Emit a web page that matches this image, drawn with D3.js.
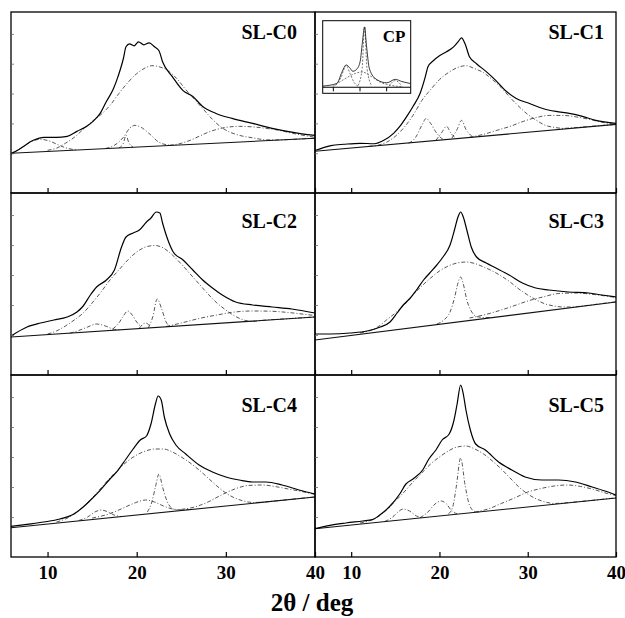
<!DOCTYPE html>
<html>
<head>
<meta charset="utf-8">
<script src="https://cdn.jsdelivr.net/npm/d3@7"></script>
<style>
  body { margin: 0; background: #fff; }
  text { font-family: "Liberation Serif", "Times New Roman", serif; font-weight: bold; }
</style>
</head>
<body>
<div id="chart"></div>
<script>
// XRD patterns (2theta in deg, intensity in a.u.)

var xTicks = [10, 20, 30, 40];
var panelNames = ["SL-C0", "SL-C1", "SL-C2", "SL-C3", "SL-C4", "SL-C5"];

// --- SL-C0
var obsC0 = [[5.9,39],[7,45],[8.4,53],[9.6,56],[11,56],[12.2,57],[13.3,62],[14.4,67],[15.1,72],[15.9,80],[16.6,92],[17.4,105],[17.9,117],[18.5,135],[18.8,147],[19.2,150],[19.7,148],[20.2,152],[20.8,149],[21.4,151],[22,147],[22.5,143],[22.9,132],[24,117],[25.2,103],[26.3,97],[27.4,87],[28.9,80],[30.7,75],[33,70],[35.2,65],[38.2,60],[40,58]];
var baseC0 = [[5.9,40],[40,55]];
var peaksC0 = [
  [[5.9,40],[7,45],[8,51],[9.2,54],[10.3,52],[11.3,48],[12.2,45],[13.3,43.3]],
  [[10,43],[11,45],[12,50],[13,56],[14,64],[15,72],[16,79],[17,88],[18,100],[19,111],[20,120],[21,126],[21.7,128],[22.5,127],[23.5,123],[24.5,115],[25.5,104],[26.5,94],[27.5,84],[28.5,74],[29.5,66],[30.5,61],[31.5,58],[33,55.5],[34.5,53.5],[36,53.4],[38,54.2],[40,55.1]],
  [[16.5,44.8],[17.5,48],[18.5,56],[19.2,65],[19.8,68],[20.5,66],[21.5,59],[22.5,51],[23.7,48]],
  [[18,45.3],[18.5,50],[18.8,58],[19.1,51],[19.6,46]],
  [[23.7,48],[25,50],[26,53],[27,57],[28,61],[29,64],[30,66],[31.5,67],[33,66.5],[34.5,65],[36,63],[37.5,60],[39,57.5],[40,56]]
];

// --- SL-C1
var obsC1 = [[5.9,42.7],[7.7,47.7],[9.2,49],[11,50],[12.6,49.5],[13.7,53],[14.8,60],[15.6,68],[16.3,77],[17,87],[17.8,100],[18.4,117],[18.7,127],[19.3,133],[20,138],[20.8,142],[21.6,147],[22.1,152],[22.5,156],[22.9,150],[23.4,137],[24.2,130],[25.3,122],[26.4,113],[27.6,102],[28.7,95],[30.2,90],[31.7,85],[33.2,82],[34.7,80],[36.2,77],[37.7,73],[40,70]];
var baseC1 = [[5.9,42],[40,69]];
var peaksC1 = [
  [[12,47],[13,48],[14,51],[15,57],[16,66],[17,78],[18,93],[19,104],[20,114],[21,121],[22,126],[23,128],[24,125],[25,121],[26,114],[27,106],[28,96],[29,87],[30,79],[31,73],[32,68],[33,66],[34,65],[35,65.5],[36,66.2],[38,67.6],[40,69.1]],
  [[16.5,50],[17.3,56],[18,68],[18.5,75],[19,70],[19.7,60],[20.5,54],[21,53.9]],
  [[19.6,53],[20.2,60],[20.8,67],[21.3,60],[21.9,55]],
  [[21.4,55],[22,64],[22.5,73],[23,64],[23.8,56]],
  [[23.4,56],[25,59],[26.5,63],[28,67],[29.5,72],[31,76],[32.5,78],[34,78],[35.5,76.5],[37,74],[38.5,71],[40,69]]
];

// --- inset CP
var obsCP = [[6.25,1.3],[11.5,4],[13.4,15.7],[15,23.3],[16.25,20.7],[17.5,16.7],[19,19],[20.25,27],[21.1,47],[21.9,63],[22.6,44],[23.75,19],[26.5,8],[30.25,4.7],[33.4,8.3],[35.9,6],[39,4]];
var peaksCP = [
  [[11,2],[13,10],[15,23],[16.5,14],[18,5],[19.5,1]],
  [[10,1],[14,8],[18,14],[21,16],[24,12],[28,5],[32,2],[36,0.5]],
  [[19.5,2],[21,20],[21.9,63],[22.8,20],[24.5,2]],
  [[31,1],[33.4,7],[36,1]]
];

// --- SL-C2
var obsC2 = [[5.9,39],[7.7,48],[9.2,52],[10.7,55],[12.2,58],[13.3,63],[14,69],[14.8,80],[15.5,88],[16.6,95],[17.5,105],[18.3,128],[18.8,138],[19.6,142],[20.3,145],[21.1,153],[21.6,157],[22.2,163],[22.6,162],[22.9,152],[23.5,135],[24.1,123],[25.2,115],[26.3,105],[27.4,95],[28.5,87],[29.6,80],[31.1,73],[33,70],[35.2,68],[37.4,66],[40,62]];
var baseC2 = [[5.9,38],[40,58]];
var peaksC2 = [
  [[10,41],[11,44],[12,49],[13,55],[14,62],[15,72],[16,83],[17,95],[18,105],[19,115],[20,123],[21,128],[22,129.5],[23,127],[24,120],[25,111],[26,101],[27,91],[28,81],[29,72],[30,65],[31,59],[32,55],[33,53.5],[34,54.6],[36,55.8],[38,56.9],[40,58.1]],
  [[12.5,41.8],[13.5,44.5],[14.5,48],[15.5,51],[16.5,49],[17.5,45.6],[18.3,45.2]],
  [[17.3,45.9],[18,52],[18.5,59],[19,64],[19.5,60],[20,53],[20.5,48.3]],
  [[20.3,47],[21,52],[21.6,47.5]],
  [[21.3,47],[21.8,58],[22.3,76],[22.8,66],[23.3,53],[23.8,48.5]],
  [[23.3,48.5],[25,52],[27,56.5],[29,60],[31,63],[33,64],[35,63.8],[37,62.5],[39,60.5],[40,59.5]]
];

// --- SL-C3
var obsC3 = [[5.9,41],[7.6,41],[9.9,42],[11.8,44],[13.3,48],[14.4,53],[15.2,62],[15.9,70],[16.7,77],[17.4,85],[18.2,95],[18.9,102],[19.7,110],[20.4,118],[21.2,130],[21.7,145],[22.1,158],[22.4,163],[22.7,158],[23.1,145],[23.6,128],[24.2,118],[25.3,112],[26.4,107],[27.9,100],[29.4,92],[30.9,87],[32.4,85],[34.6,83],[36.9,82],[38.4,80],[40,78]];
var baseC3 = [[5.9,35],[40,73]];
var peaksC3 = [
  [[11,42],[12,44],[13,48],[14,55],[15,62],[16,70],[17,80],[18,89],[19,97],[20,104],[21,109],[22,112],[23,113],[24,111.5],[25,108],[26,104],[27,99],[28,93],[29,86],[30,80],[31,75],[32,71],[33,69],[34,68],[35,68],[36,68.8],[38,71],[40,73.2]],
  [[19.7,51],[20.5,55],[21.2,63],[21.7,77],[22.1,92],[22.4,98],[22.7,91],[23.1,75],[23.6,64],[24.2,58.5],[25,57.5],[26,57.5]],
  [[23.4,57],[25,60],[27,65],[28.7,70],[30,74],[31.7,78],[33.5,81.5],[35.5,82],[37.5,80.5],[40,77.5]]
];

// --- SL-C4
var obsC4 = [[5.9,30.7],[7.7,32.7],[9.6,35],[11.4,38],[12.9,42.7],[14,50],[14.8,56.7],[15.9,66.7],[17,78],[17.9,86.7],[18.8,98],[19.6,108],[20.4,117],[21.1,121],[21.6,133],[22.1,153],[22.4,161],[22.75,157],[23.1,140],[23.7,123],[24.4,112],[25.5,103],[27,92],[28.5,85],[30,80],[31.5,77],[33,75],[34.5,75],[36.3,72],[38.2,67],[40,63]];
var baseC4 = [[5.9,29.3],[40,60]];
var peaksC4 = [
  [[11,35],[12,38],[13,43],[14,50],[15,59],[16,69],[17,79],[18,88],[19,96],[20,102],[21,106],[22,108],[23,108],[24,105],[25,100],[26,94],[27,87],[28,79],[29,71],[30,64],[31,59],[32,56],[33,54.5],[34,54.8],[36,56.5],[38,58.3],[40,60.1]],
  [[21.2,45],[21.7,55],[22.1,70],[22.5,83],[22.9,70],[23.4,56],[23.9,49],[24.5,47]],
  [[15,39],[16.5,42],[18,47],[19.5,53],[21,57],[22,55],[23,51],[24,48],[25,47.2],[26,47.5]],
  [[13.5,36.5],[14.5,40],[15.3,45],[16,47],[16.8,45],[17.6,41.5],[18.3,40.5]],
  [[25,47.6],[26.5,50],[28,55],[29.5,62],[31,68],[32.5,71.5],[34,72],[35.5,70.5],[37,68],[38.5,65.5],[40,62.5]]
];

// --- SL-C5
var obsC5 = [[5.9,28.3],[7.6,31.7],[9.4,34],[11.3,36],[12.4,37.3],[13.2,41.7],[14.3,50],[15.5,63],[16.2,73],[17,78],[18.1,87],[18.8,98],[19.6,107],[20.3,117],[21.1,123],[21.65,137],[22,153],[22.4,172],[22.7,163],[23,147],[23.5,127],[24.1,113],[25.2,107],[26.7,95],[28.2,87],[29.7,80],[31.6,77],[33.5,77],[35.4,75],[37.3,70],[39.1,65],[40,62]];
var baseC5 = [[5.9,28.3],[40,59]];
var peaksC5 = [
  [[11,34],[12,36],[13,40],[14,47],[15,56],[16,65],[17,75],[18,84],[19,93],[20,100],[21,106],[22,110],[23,111],[24,108],[25,103],[26,96],[27,88],[28,79],[29,70],[30,63],[31,58],[32,55],[33,53.5],[34,54],[36,55.6],[38,57.3],[40,59.1]],
  [[21,43],[21.5,50],[21.9,70],[22.4,99],[22.9,72],[23.4,52],[24,45.5],[24.5,45]],
  [[17.8,39.2],[18.7,45],[19.5,53],[20.2,56],[20.8,53],[21.4,46],[22,43.2]],
  [[13.8,35.5],[14.7,40],[15.3,45],[15.9,48],[16.6,46],[17.4,41],[18.2,39.3]],
  [[24,45],[25.5,48],[27,53.5],[28.5,59],[30,65],[31.5,68.5],[33,71],[34.5,72],[36,70.5],[37.5,67.5],[39,63.5],[40,61.5]]
];

var panels = [
  { name: panelNames[0], obs: obsC0, base: baseC0, peaks: peaksC0 },
  { name: panelNames[1], obs: obsC1, base: baseC1, peaks: peaksC1 },
  { name: panelNames[2], obs: obsC2, base: baseC2, peaks: peaksC2 },
  { name: panelNames[3], obs: obsC3, base: baseC3, peaks: peaksC3 },
  { name: panelNames[4], obs: obsC4, base: baseC4, peaks: peaksC4 },
  { name: panelNames[5], obs: obsC5, base: baseC5, peaks: peaksC5 }
];

// layout
var width = 625, height = 618;
var cols = [[11, 315], [315, 616]];
var rows = [[12, 193], [193, 375], [375, 557]];
var labelDy = [27, 35, 37];

var svg = d3.select("#chart").append("svg")
  .attr("width", width)
  .attr("height", height);

panels.forEach(function(p, i) {
  var c = cols[i % 2], r = rows[Math.floor(i / 2)];
  var x = d3.scaleLinear().domain([5.9, 40]).range(c);
  var y = d3.scaleLinear().domain([0, 182]).range([r[1], r[0]]);
  var line = d3.line()
    .x(function(d) { return x(d[0]); })
    .y(function(d) { return y(d[1]); })
    .curve(d3.curveMonotoneX);

  var g = svg.append("g").attr("class", "panel");

  // fitted components
  g.selectAll(".peak")
    .data(p.peaks)
    .enter().append("path")
    .attr("class", "peak")
    .attr("d", line)
    .style("fill", "none")
    .style("stroke", "#444")
    .style("stroke-width", 0.9)
    .style("stroke-dasharray", "4,2,1,2");

  // baseline
  g.append("path")
    .attr("d", line(p.base))
    .style("fill", "none")
    .style("stroke", "#111")
    .style("stroke-width", 1.1);

  // measured pattern
  g.append("path")
    .attr("d", line(p.obs))
    .style("fill", "none")
    .style("stroke", "#000")
    .style("stroke-width", 1.2);

  // frame
  g.append("rect")
    .attr("x", c[0]).attr("y", r[0])
    .attr("width", c[1] - c[0]).attr("height", r[1] - r[0])
    .style("fill", "none")
    .style("stroke", "#000")
    .style("stroke-width", 1.3);

  // x ticks (inward)
  var ax = g.append("g")
    .attr("transform", "translate(0," + r[1] + ")")
    .call(d3.axisBottom(x).tickValues(xTicks).tickSizeInner(-5).tickSizeOuter(0).tickPadding(8.5));
  ax.select(".domain").remove();
  ax.selectAll("line").style("stroke", "#000").style("stroke-width", 1.2);
  if (i < 4) {
    ax.selectAll("text").remove();
  } else {
    ax.selectAll("text")
      .style("font-family", "'Liberation Serif', 'Times New Roman', serif")
      .style("font-weight", "bold")
      .style("font-size", "19px")
      .style("fill", "#000");
  }

  // faint y ticks
  var ay = g.append("g")
    .attr("transform", "translate(" + c[0] + ",0)")
    .call(d3.axisLeft(y).tickValues([40, 70, 100, 130, 160]).tickSizeInner(-3).tickSizeOuter(0).tickFormat(""));
  ay.select(".domain").remove();
  ay.selectAll("line").style("stroke", "#666").style("stroke-width", 0.8);

  // panel label
  g.append("text")
    .attr("x", c[1] - (i % 2 ? 12 : 18))
    .attr("y", r[0] + labelDy[Math.floor(i / 2)])
    .attr("text-anchor", "end")
    .style("font-size", "20px")
    .text(p.name);
});

// inset CP in SL-C1
var ix = d3.scaleLinear().domain([6.2, 39.2]).range([322.7, 410.7]);
var iy = d3.scaleLinear().domain([0, 66]).range([87.3, 24]);
var iline = d3.line()
  .x(function(d) { return ix(d[0]); })
  .y(function(d) { return iy(d[1]); })
  .curve(d3.curveMonotoneX);

var inset = svg.append("g").attr("class", "inset");
inset.append("rect")
  .attr("x", 322.7).attr("y", 20.7)
  .attr("width", 88).attr("height", 72.6)
  .style("fill", "#fff")
  .style("stroke", "#000")
  .style("stroke-width", 1);

inset.selectAll(".ipeak")
  .data(peaksCP)
  .enter().append("path")
  .attr("class", "ipeak")
  .attr("d", iline)
  .style("fill", "none")
  .style("stroke", "#555")
  .style("stroke-width", 0.8)
  .style("stroke-dasharray", "2,1.5");

inset.append("path")
  .attr("d", iline(obsCP))
  .style("fill", "none")
  .style("stroke", "#222")
  .style("stroke-width", 0.9);

var iax = inset.append("g")
  .attr("transform", "translate(0,87.3)")
  .call(d3.axisBottom(ix).tickValues([10, 20, 30]).tickSizeInner(4).tickSizeOuter(0).tickFormat(""));
iax.select(".domain").attr("d", "M322.7,0H410.7").style("stroke", "#000").style("stroke-width", 1.1);
iax.selectAll("line").style("stroke", "#000");

inset.append("text")
  .attr("x", 394).attr("y", 41.5)
  .attr("text-anchor", "middle")
  .style("font-size", "17px")
  .text("CP");

// axis title
svg.append("text")
  .attr("x", 312)
  .attr("y", 611)
  .attr("text-anchor", "middle")
  .style("font-size", "25px")
  .text("2θ / deg");
</script>
</body>
</html>
